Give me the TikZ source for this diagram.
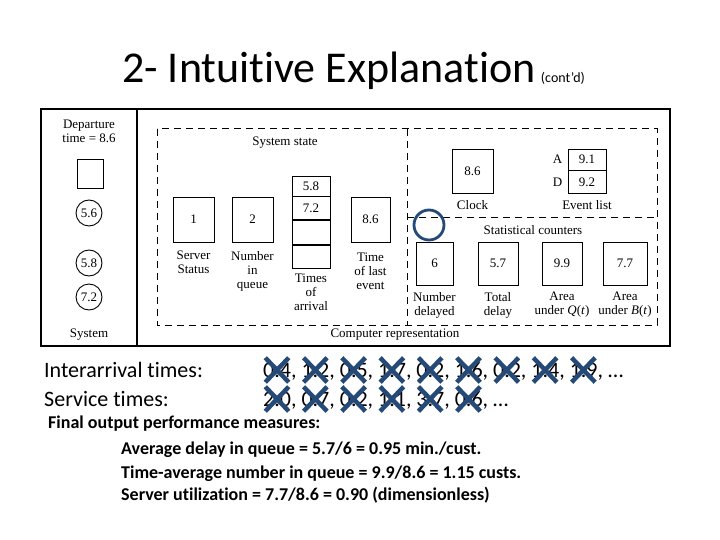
\documentclass[tikz,border=0pt]{standalone}
\usepackage{fontspec}
\setmainfont{Carlito}[Ligatures=NoCommon]
\newfontfamily\figfont{Liberation Serif}
\usetikzlibrary{shapes.misc}
\definecolor{xblue}{RGB}{38,74,120}
\begin{document}
\begin{tikzpicture}[x=1pt,y=-1pt,
  fig/.style={font=\figfont\fontsize{13}{14}\selectfont, inner sep=0pt, align=center},
  box/.style={fig, draw, line width=0.9pt},
  val/.style={draw, circle, line width=0.9pt, minimum size=26, inner sep=0pt, font=\figfont\fontsize{13}{14}\selectfont},
  frameline/.style={line width=1.2pt},
  dashline/.style={line width=1pt, dash pattern=on 7pt off 5pt},
  xmk/.style={cross out, draw=xblue, line width=4.5pt, minimum width=19, minimum height=20, inner sep=0pt},
  body/.style={font=\fontsize{22}{26}\selectfont, inner sep=0pt},
  bodyb/.style={font=\bfseries\fontsize{18}{22}\selectfont, inner sep=0pt}]
\useasboundingbox[fill=white] (0,0) rectangle (720,540);

% title
\node[anchor=base west, inner sep=0pt, font=\fontsize{44}{50}\selectfont] (title) at (122,83) {2- Intuitive Explanation};
\node[anchor=base west, inner sep=0pt, font=\fontsize{14}{16}\selectfont] (contd) at ([xshift=5pt]title.base east) {(cont’d)};

% frame
\draw[frameline] (41,109) rectangle (670,346);
\draw[frameline] (137,109) -- (137,346);
\draw[dashline] (157,129) rectangle (657,325);
\draw[dashline] (407,129) -- (407,325);
\draw[dashline] (407,218) -- (657,218);

% left panel: system
\node[fig] (dep) at (89,131.5) {Departure\\time = 8.6};
\node[box, minimum width=26, minimum height=29] (srvsys) at (90,173.5) {};
\node[val] (c1) at (89,213) {5.6};
\node[val] (c2) at (89,263) {5.8};
\node[val] (c3) at (89,297) {7.2};
\node[fig] (sys) at (89,335) {System};

% system state
\node[fig] (sst) at (285,143) {System state};
\node[box, minimum width=41, minimum height=45] (srv) at (193.5,219.5) {1};
\node[fig] (srvl) at (193.5,262) {Server\\Status};
\node[box, minimum width=41, minimum height=45] (nq) at (252.5,219.5) {2};
\node[fig] (nql) at (252.5,271) {Number\\in\\queue};
\node[box, minimum width=38, minimum height=20] (a1) at (311,186) {5.8};
\node[box, minimum width=38, minimum height=23, anchor=north] (a2) at (a1.south) {7.2};
\node[box, minimum width=38, minimum height=24, anchor=north] (a3) at (a2.south) {};
\node[box, minimum width=38, minimum height=23, anchor=north] (a4) at (a3.south) {};
\node[fig] (arrl) at (311,292) {Times\\of\\arrival};
\node[box, minimum width=39, minimum height=45] (tle) at (370.5,219.5) {8.6};
\node[fig] (tlel) at (370.5,271) {Time\\of last\\event};

% clock and event list
\node[box, minimum width=41, minimum height=44] (clk) at (472.5,171) {8.6};
\node[fig] (clkl) at (472.5,205) {Clock};
\node[box, minimum width=38, minimum height=21] (ea) at (587,159.5) {9.1};
\node[box, minimum width=38, minimum height=23, anchor=north] (ed) at (ea.south) {9.2};
\node[fig, anchor=east] (eal) at ([xshift=-5pt]ea.west) {A};
\node[fig, anchor=east] (edl) at ([xshift=-5pt]ed.west) {D};
\node[fig] (evl) at (587,205) {Event list};

% statistical counters
\node[fig] (stc) at (533,230) {Statistical counters};
\node[box, minimum width=37, minimum height=43] (s1) at (434.5,263.5) {6};
\node[box, minimum width=40, minimum height=43] (s2) at (498,263.5) {5.7};
\node[box, minimum width=40, minimum height=43] (s3) at (562,263.5) {9.9};
\node[box, minimum width=44, minimum height=43] (s4) at (625,263.5) {7.7};
\node[fig] (s1l) at (434.5,305) {Number\\delayed};
\node[fig] (s2l) at (498,305) {Total\\delay};
\node[fig] (s3l) at (562,305) {Area\\under \textit{Q}(\textit{t})};
\node[fig] (s4l) at (625,305) {Area\\under \textit{B}(\textit{t})};
\node[fig] (cr) at (395,335) {Computer representation};

% highlight circle
\node[draw=xblue, circle, line width=2.8pt, minimum size=30, inner sep=0pt] (hl) at (429,225) {};

% interarrival and service times
\node[body, anchor=base west] (ia) at (44,377) {Interarrival times:};
\node[body, anchor=base west] (st) at (44,406) {Service times:};
\node[body, anchor=base west] (ian) at (263,377) {0.4, 1.2, 0.5, 1.7, 0.2, 1.6, 0.2, 1.4, 1.9, …};
\node[body, anchor=base west] (stn) at (263,406) {2.0, 0.7, 0.2, 1.1, 3.7, 0.6, …};
\foreach \i in {0,...,8} {\node[xmk] (xa\i) at (277+38.3*\i,370) {};}
\foreach \i in {0,...,5} {\node[xmk] (xs\i) at (277+38.3*\i,399) {};}

% final output
\node[bodyb, anchor=base west] (fo) at (48,428) {Final output performance measures:};
\node[bodyb, anchor=base west] (m1) at (121,454) {Average delay in queue = 5.7/6 = 0.95 min./cust.};
\node[bodyb, anchor=base west] (m2) at (121,478) {Time-average number in queue = 9.9/8.6 = 1.15 custs.};
\node[bodyb, anchor=base west] (m3) at (121,500) {Server utilization = 7.7/8.6 = 0.90 (dimensionless)};
\end{tikzpicture}
\end{document}
